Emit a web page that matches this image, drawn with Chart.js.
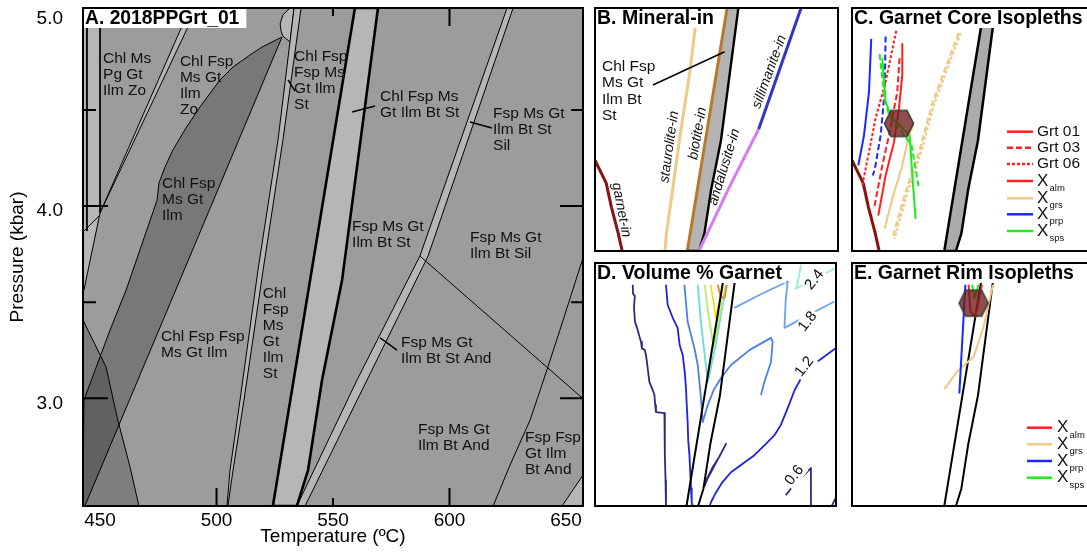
<!DOCTYPE html>
<html>
<head>
<meta charset="utf-8">
<title>2018PPGrt_01 pseudosection</title>
<script src="https://cdn.jsdelivr.net/npm/chart.js@4.4.1/dist/chart.umd.min.js"></script>
<style>
  html, body { margin: 0; padding: 0; width: 1087px; height: 552px; overflow: hidden; background: #fff; }
  canvas { position: absolute; }
</style>
</head>
<body>
<canvas id="panelA" width="590" height="552" style="left:0;top:0;width:590px;height:552px"></canvas>
<canvas id="panelB" width="247" height="247" style="left:593px;top:6px;width:247px;height:247px"></canvas>
<canvas id="panelC" width="247" height="247" style="left:850px;top:6px;width:247px;height:247px"></canvas>
<canvas id="panelD" width="245" height="247" style="left:593px;top:261px;width:245px;height:247px"></canvas>
<canvas id="panelE" width="247" height="247" style="left:850px;top:261px;width:247px;height:247px"></canvas>
<script>
const FONT = '"Liberation Sans", Arial, Helvetica, sans-serif';

// ---- axis ranges and ticks (temperature in °C, pressure in kbar) ----
const T_MIN = 442.7, T_MAX = 657.3, P_MIN = 2.44, P_MAX = 5.03;
const tempTicks = [450, 500, 550, 600, 650];
const pressTicks = [3.0, 4.0, 5.0];
const innerTempTicks = [500, 550, 600];
const innerPressTicks = [3.0, 3.5, 4.0, 4.5];

// ---- phase-field boundaries, [T, P] ----
const lowTCorner      = [[442.7,5.03],[450.0,5.03],[450.0,3.964],[443.1,3.563],[442.7,3.563]];
const cornerInnerLine = [[444.4,5.03],[444.4,3.87]];
const cornerBaseLine  = [[442.7,3.865],[450.0,3.953]];
const cornerEdge      = [[450.0,5.03],[450.0,3.964]];
const zoStripLeft     = [[488.6,5.03],[450.0,3.964],[443.1,3.563]];
const zoStripRight    = [[491.6,5.03],[450.0,3.964]];
const chlBandLeft     = [[528.1,4.879],[519.5,4.827],[514.4,4.786],[507.1,4.723],[501.5,4.656],[492.9,4.515],
                         [486.9,4.406],[481.3,4.292],[477.9,4.203],[475.3,4.120],[474.5,4.031],[461.2,3.563],
                         [454.3,3.355],[448.7,3.173],[443.1,2.991],[442.7,2.98]];
const chlBandRight    = [[528.1,4.879],[494.6,3.912],[443.5,2.44]];
const garnetIn        = [[442.7,3.40],[443.1,3.397],[452.6,3.163],[457.3,2.903],[462.9,2.643],[466.7,2.44]];
const topBubble       = [[531.5,5.03],[528.5,4.994],[527.3,4.947],[527.7,4.910],[528.5,4.884],[531.6,4.853],[533.3,5.03]];
const stLeft          = [[533.3,5.03],[526.4,4.343],[517.8,3.667],[510.1,2.991],[505.8,2.627],[504.5,2.44]];
const stRight         = [[536.3,5.03],[528.5,4.343],[520.0,3.667],[511.8,2.991],[507.1,2.627],[504.9,2.44]];
const btLeft          = [[559.4,5.03],[524.2,2.44]];
const btRight         = [[569.3,5.03],[553.9,3.615],[545.3,3.095],[539.3,2.627],[534.5,2.44]];
const silLeft         = [[624.7,5.03],[587.3,3.740],[560.3,3.095],[534.5,2.44]];
const silRight        = [[627.3,5.03],[590.8,3.740],[564.6,3.095],[538.0,2.44]];
const andSilLine      = [[587.3,3.740],[657.3,2.998]];
const hiTCurve        = [[657.3,3.730],[647.4,3.355],[641.8,3.147],[634.6,2.887],[626.0,2.653],[618.7,2.44]];
const hiTCorner       = [[648.3,2.44],[657.3,2.601],[657.3,2.44]];
const leaderLines     = [
  [[570.2,3.314],[577.5,3.251]],
  [[608.8,4.437],[618.2,4.406]],
  [[558.2,4.489],[568.0,4.520]],
  [[530.7,4.656],[533.7,4.598]]
];

// ---- field names ----
const fieldLabels = [
  { lines: ['Chl Ms','Pg Gt','Ilm Zo'],            at: [451.3, 4.765] },
  { lines: ['Chl Fsp','Ms Gt','Ilm','Zo'],         at: [484.3, 4.749] },
  { lines: ['Chl Fsp','Ms Gt','Ilm'],              at: [476.6, 4.115] },
  { lines: ['Chl Fsp','Fsp Ms','Gt Ilm','St'],     at: [533.3, 4.775] },
  { lines: ['Chl Fsp Ms','Gt Ilm Bt St'],          at: [570.2, 4.567] },
  { lines: ['Fsp Ms Gt','Ilm Bt St','Sil'],        at: [618.7, 4.479] },
  { lines: ['Fsp Ms Gt','Ilm Bt St'],              at: [558.2, 3.891] },
  { lines: ['Fsp Ms Gt','Ilm Bt Sil'],             at: [608.8, 3.834] },
  { lines: ['Chl Fsp Fsp','Ms Gt Ilm'],            at: [476.2, 3.319] },
  { lines: ['Chl','Fsp','Ms','Gt','Ilm','St'],     at: [519.9, 3.543] },
  { lines: ['Fsp Ms Gt','Ilm Bt St And'],          at: [579.2, 3.288] },
  { lines: ['Fsp Ms Gt','Ilm Bt And'],             at: [586.5, 2.835] },
  { lines: ['Fsp Fsp','Gt Ilm','Bt And'],          at: [632.4, 2.794] }
];

// ---- mineral-in panel ----
const mineralInLabels = [
  { text: 'garnet-in',      at: [465.9, 2.877], angle: 79 },
  { text: 'staurolite-in',  at: [508.4, 3.549], angle: -82 },
  { text: 'biotite-in',     at: [533.4, 3.692], angle: -80 },
  { text: 'andalusite-in',  at: [557.0, 3.335], angle: -73 },
  { text: 'sillimanite-in', at: [596.7, 4.351], angle: -70 }
];
const mineralFieldLabel = { lines: ['Chl Fsp','Ms Gt','Ilm Bt','St'], at: [448.9, 4.404] };
const mineralLeader = [[493.9,4.209],[557.2,4.564]];

// ---- garnet core isopleths (Grt 01 / 03 / 06) ----
const coreAlm01 = [[487.1,4.645],[487.1,4.316],[484.2,3.960],[479.8,3.602],[472.4,3.246],[465.9,2.818]];
const coreAlm03 = [[484.7,4.495],[482.7,4.137],[475.4,3.674],[469.5,3.353],[462.1,2.889]];
const coreAlm06 = [[481.8,4.787],[472.4,4.244],[463.5,3.853],[457.7,3.495],[451.8,3.139]];
const corePrp01 = [[459.7,4.701],[457.7,4.137],[453.3,3.674],[448.3,3.353]];
const corePrp03 = [[472.4,4.726],[471.5,4.137],[468.0,3.674],[463.5,3.353],[461.2,3.246]];
const coreSps01 = [[469.4,4.495],[472.4,4.030],[478.0,3.86],[493.6,3.674],[496.0,3.246],[498.9,2.783]];
const coreSps03 = [[467.1,4.538],[471.5,4.067],[475.4,3.888],[495.3,3.567],[501.9,3.104]];
const coreGrs01 = [[496.8,3.781],[493.0,3.674],[487.1,3.353],[478.3,2.997],[471.5,2.676]];
const coreGrs03 = [[536.8,4.762],[513.6,4.013],[501.9,3.495],[490.0,3.067],[478.3,2.569]];
const coreGrs06 = [[538.6,4.762],[515.4,4.013],[503.7,3.495],[491.8,3.067],[480.1,2.569]];
const coreEstimate = [[484.2,3.799]];

// ---- garnet rim isopleths ----
const rimAlm = [[545.7,4.798],[547.2,4.512],[551.6,4.459],[557.5,4.798]];
const rimGrs = [[567.2,4.798],[558.9,4.351],[550.1,4.030],[535.4,3.870],[524.2,3.685]];
const rimPrp = [[542.8,4.798],[537.5,3.639]];
const rimSps = [[548.7,4.798],[551.0,4.655],[554.5,4.798]];
const rimEstimate = [[550.1,4.602]];

// ---- volume % garnet contours ----
const vol06a = [[476.3,4.798],[476.6,4.700],[478.2,4.680],[477.4,4.560],[478.3,4.403],[480.7,4.317],[482.2,4.250],
                [483.7,4.189],[484.5,4.120],[487.0,4.104],[488.1,4.050],[489.6,3.911],[491.1,3.762],[494.1,3.676],
                [495.6,3.623],[496.3,3.516],[497.0,3.441],[504.5,3.430],[504.8,3.249],[505.0,2.982],[505.5,2.715],
                [505.9,2.44]];
const vol06b = [[612.5,2.554],[616.1,2.608],[620.5,2.683],[627.6,2.757],[635.0,2.843],[635.0,2.44]];
const vol06c = [[559.7,3.110],[555.5,3.014],[549.3,2.875],[543.1,2.736],[540.1,2.650],[541.3,2.704],
                [547.5,2.853],[553.7,2.971],[559.7,3.110]];
const vol06d = [[653.5,2.44],[657.3,2.533]];
const vol12a = [[505.9,4.798],[507.4,4.585],[511.9,4.446],[516.3,4.339],[518.1,4.157],[520.8,4.050],[522.6,3.869],
                [523.7,3.698],[524.4,3.516],[525.2,3.334],[525.7,3.142],[526.8,2.982],[527.5,2.800],[528.2,2.629],
                [528.8,2.480],[529.7,2.44]];
const vol12b = [[544.8,2.44],[546.0,2.480],[549.0,2.554],[555.5,2.683],[563.8,2.800],[576.0,2.907],[584.6,2.982],
                [593.8,3.089],[602.5,3.195],[608.1,3.302],[614.3,3.484],[620.5,3.676],[629.4,3.869],[642.8,3.997],
                [657.3,4.125]];
const vol18a = [[522.3,4.798],[523.5,4.638],[525.2,4.403],[531.2,4.125],[534.2,3.943],[536.8,3.623],[538.6,3.334],
                [543.1,3.516],[548.4,3.676],[554.9,3.804],[563.8,3.943],[580.5,4.104],[599.4,4.232],[600.9,4.189],
                [599.4,3.975],[593.5,3.762],[590.5,3.623]];
const vol18b = [[566.8,4.552],[589.4,4.691],[614.3,4.833],[612.5,4.638],[611.4,4.339],[625.0,4.424],[638.3,4.510],
                [655.9,4.620]];
const vol24  = [[626.1,5.012],[624.1,4.873],[621.7,4.755],[629.4,4.809],[638.3,4.862],[647.2,4.916],[657.3,4.980]];
const vol30  = [[534.2,4.798],[536.8,4.424],[540.4,4.050],[543.1,3.762],[550.2,4.157],[556.4,4.584],[560.0,4.798]];
const vol36  = [[540.4,4.798],[543.1,4.531],[546.6,4.264],[548.4,4.125],[552.9,4.424],[558.2,4.745],[559.1,4.798]];
const vol42  = [[545.7,4.798],[548.4,4.606],[550.2,4.446],[553.7,4.638],[556.4,4.798]];
const vol48  = [[552.0,4.798],[554.6,4.670],[558.2,4.659],[560.0,4.798]];
const contourLabels = [
  { text: '2.4', at: [638.1, 4.852] },
  { text: '1.8', at: [632.1, 4.406] },
  { text: '1.2', at: [629.2, 3.925] },
  { text: '0.6', at: [620.3, 2.768] }
];

// ---- colours ----
const FIELD = '#9c9c9c', LIGHT = '#b6b6b6', EDGE = '#000';
const ALM = '#ff2020', GRS = '#efc884', PRP = '#1c28ff', SPS = '#1eec1e', GRT_IN = '#8c1212';

// ---- helpers ----
const pts = arr => arr.map(([x, y]) => ({ x, y }));
function lineDs(arr, color, width, dash) {
  return { data: pts(arr), borderColor: color, borderWidth: width, borderDash: dash || [],
           pointRadius: 0, fill: false, tension: 0, borderJoinStyle: 'round', borderCapStyle: 'butt' };
}
function polyDs(arr, fillColor, edgeColor, edgeWidth) {
  return { data: pts(arr.concat([arr[0]])), backgroundColor: fillColor,
           borderColor: edgeColor || 'rgba(0,0,0,0)', borderWidth: edgeWidth || 1,
           pointRadius: 0, fill: 'shape', tension: 0, borderJoinStyle: 'round' };
}
// first item in the list is painted first (lowest)
const stack = list => list.map((d, i) => Object.assign(d, { order: list.length - i }));
const toPx = (chart, at) => [chart.scales.x.getPixelForValue(at[0]), chart.scales.y.getPixelForValue(at[1])];

function hexagonMark() {
  const c = document.createElement('canvas');
  c.width = 32; c.height = 30;
  const g = c.getContext('2d');
  g.beginPath();
  g.moveTo(1.5, 15); g.lineTo(8, 2); g.lineTo(24, 2); g.lineTo(30.5, 15); g.lineTo(24, 28); g.lineTo(8, 28);
  g.closePath();
  g.fillStyle = 'rgba(110,28,28,0.78)';
  g.fill();
  g.lineWidth = 1.6; g.strokeStyle = '#3a3a3a';
  g.stroke();
  return c;
}
const estimateDs = arr => ({ data: pts(arr), pointStyle: hexagonMark(), pointRadius: 15, showLine: false,
                             borderWidth: 0, fill: false });

function drawTitle(ctx, a, text, size, extra) {
  ctx.font = `bold ${size}px ${FONT}`;
  const w = ctx.measureText(text).width;
  ctx.fillStyle = '#fff';
  ctx.fillRect(a.left, a.top, w + 4 + extra, 20);
  ctx.fillStyle = '#000';
  ctx.textAlign = 'left'; ctx.textBaseline = 'middle';
  ctx.fillText(text, a.left + 2, a.top + 10.5);
}
function drawBlock(ctx, lines, x, y, size, lh) {
  ctx.font = `${size}px ${FONT}`;
  ctx.fillStyle = '#111'; ctx.textAlign = 'left'; ctx.textBaseline = 'middle';
  lines.forEach((t, i) => ctx.fillText(t, x, y + i * lh));
}
function drawKey(ctx, a, rows, lineX0, lineX1, textX) {
  rows.forEach(r => {
    const y = a.top + r.dy;
    ctx.save();
    ctx.strokeStyle = r.color; ctx.lineWidth = 2.5; ctx.setLineDash(r.dash || []);
    ctx.beginPath(); ctx.moveTo(a.left + lineX0, y); ctx.lineTo(a.left + lineX1, y); ctx.stroke();
    ctx.restore();
    ctx.fillStyle = '#111'; ctx.textAlign = 'left'; ctx.textBaseline = 'middle';
    if (r.sub) {
      ctx.font = `17px ${FONT}`;
      ctx.fillText('X', a.left + textX, y);
      ctx.font = `9.5px ${FONT}`;
      ctx.fillText(r.sub, a.left + textX + 12.5, y + 7.5);
    } else {
      ctx.font = `15.5px ${FONT}`;
      ctx.fillText(r.text, a.left + textX, y);
    }
  });
}

const insetScales = () => ({
  x: { type: 'linear', min: T_MIN, max: T_MAX, display: false },
  y: { type: 'linear', min: P_MIN, max: P_MAX, display: false }
});
const baseOptions = extra => Object.assign({
  responsive: false, animation: false, devicePixelRatio: 1, events: [],
  plugins: { legend: { display: false }, tooltip: { enabled: false } }
}, extra);

function insetChart(id, title, datasets, decorate) {
  return new Chart(document.getElementById(id), {
    type: 'line',
    data: { datasets: stack(datasets) },
    options: baseOptions({ layout: { padding: 2, autoPadding: false }, scales: insetScales() }),
    plugins: [{
      id: 'inset-' + id,
      afterDatasetsDraw(chart) {
        const { ctx, chartArea: a } = chart;
        ctx.save();
        if (decorate) decorate(chart, ctx, a);
        drawTitle(ctx, a, title, 19.5, 2);
        ctx.lineWidth = 2; ctx.strokeStyle = '#000';
        ctx.strokeRect(a.left, a.top, a.right - a.left, a.bottom - a.top);
        ctx.restore();
      }
    }]
  });
}

// ---- A. pseudosection ----
const chlBandPoly = chlBandLeft.concat([[442.7, 2.44]], chlBandRight.slice().reverse());
const garnetField = garnetIn.concat([[442.7, 2.44]]);
const stPoly  = stLeft.concat(stRight.slice().reverse());
const btPoly  = btLeft.concat(btRight.slice().reverse());
const silPoly = silLeft.concat(silRight.slice().reverse());

new Chart(document.getElementById('panelA'), {
  type: 'line',
  data: {
    datasets: stack([
      polyDs(lowTCorner, LIGHT),
      lineDs(cornerInnerLine, EDGE, 1),
      lineDs(cornerBaseLine, EDGE, 1),
      lineDs(cornerEdge, EDGE, 1),
      polyDs([zoStripLeft[0], zoStripRight[0], zoStripRight[1]], LIGHT),
      lineDs(zoStripLeft, EDGE, 1),
      lineDs(zoStripRight, EDGE, 1),
      polyDs(chlBandPoly, 'rgba(0,0,0,0.23)', EDGE, 1),
      polyDs(garnetField, 'rgba(0,0,0,0.19)'),
      lineDs(garnetIn, EDGE, 1),
      polyDs(topBubble, LIGHT, EDGE, 1),
      polyDs(stPoly, LIGHT),
      lineDs(stLeft, EDGE, 1),
      lineDs(stRight, EDGE, 1),
      polyDs(silPoly, LIGHT),
      lineDs(silLeft, EDGE, 1),
      lineDs(silRight, EDGE, 1),
      lineDs(andSilLine, EDGE, 1),
      lineDs(hiTCurve, EDGE, 1),
      polyDs(hiTCorner, LIGHT, EDGE, 1),
      polyDs(btPoly, LIGHT, EDGE, 2.6),
      ...leaderLines.map(l => lineDs(l, EDGE, 1.5))
    ])
  },
  options: baseOptions({
    layout: { padding: { left: 0, right: 7, top: 8, bottom: 0 }, autoPadding: false },
    scales: {
      x: {
        type: 'linear', min: T_MIN, max: T_MAX,
        afterBuildTicks: s => { s.ticks = tempTicks.map(v => ({ value: v })); },
        afterFit: s => { s.height = 46; s.paddingLeft = 0; s.paddingRight = 0; },
        grid: { display: false, drawTicks: false }, border: { display: false },
        ticks: { color: '#000', font: { family: FONT, size: 19 }, padding: 3, maxRotation: 0, autoSkip: false,
                 callback: v => String(v) },
        title: { display: true, text: 'Temperature (ºC)', color: '#000', font: { family: FONT, size: 19 },
                 padding: { top: 0, bottom: 4 } }
      },
      y: {
        type: 'linear', min: P_MIN, max: P_MAX,
        afterBuildTicks: s => { s.ticks = pressTicks.map(v => ({ value: v })); },
        afterFit: s => { s.width = 83; s.paddingTop = 0; s.paddingBottom = 0; },
        grid: { display: false, drawTicks: false }, border: { display: false },
        ticks: { color: '#000', font: { family: FONT, size: 19 }, padding: 20, autoSkip: false, labelOffset: 5,
                 callback: v => Number(v).toFixed(1) },
        title: { display: true, text: 'Pressure (kbar)', color: '#000', font: { family: FONT, size: 19 },
                 padding: { top: 6, bottom: 0 } }
      }
    }
  }),
  plugins: [{
    id: 'pseudosection',
    beforeDatasetsDraw(chart) {
      const { ctx, chartArea: a } = chart;
      ctx.save();
      ctx.fillStyle = FIELD;
      ctx.fillRect(a.left, a.top, a.right - a.left, a.bottom - a.top);
      ctx.restore();
    },
    afterDatasetsDraw(chart) {
      const { ctx, chartArea: a, scales: { x, y } } = chart;
      ctx.save();
      fieldLabels.forEach(l => {
        const [px, py] = toPx(chart, l.at);
        drawBlock(ctx, l.lines, px, py, 15.5, 16);
      });
      ctx.strokeStyle = '#000'; ctx.lineWidth = 2;
      innerTempTicks.forEach(v => {
        const px = x.getPixelForValue(v), len = v % 100 === 0 ? 18 : 8;
        ctx.beginPath();
        ctx.moveTo(px, a.bottom); ctx.lineTo(px, a.bottom - len);
        ctx.moveTo(px, a.top); ctx.lineTo(px, a.top + len);
        ctx.stroke();
      });
      innerPressTicks.forEach(v => {
        const py = y.getPixelForValue(v), major = Number.isInteger(v);
        ctx.beginPath();
        ctx.moveTo(a.left, py); ctx.lineTo(a.left + (major ? 25 : 13), py);
        ctx.moveTo(a.right, py); ctx.lineTo(a.right - (major ? 23 : 12), py);
        ctx.stroke();
      });
      drawTitle(ctx, a, 'A. 2018PPGrt_01', 19.3, 5);
      ctx.lineWidth = 2; ctx.strokeStyle = '#000';
      ctx.strokeRect(a.left, a.top, a.right - a.left, a.bottom - a.top);
      ctx.restore();
    }
  }]
});

// ---- B. mineral-in lines ----
insetChart('panelB', 'B. Mineral-in', [
  polyDs(btPoly, '#b4b4b4'),
  lineDs(garnetIn, GRT_IN, 3),
  lineDs(stLeft, '#ecca88', 3),
  lineDs(btLeft, '#b8782e', 3),
  lineDs(btRight.concat([btLeft[btLeft.length - 1]]), '#000', 2.4),
  lineDs(silLeft.slice(1), '#d27ff2', 3),
  lineDs(silLeft.slice(0, 2), '#3333c4', 3),
  lineDs(mineralLeader, '#000', 1.5)
], (chart, ctx) => {
  const [lx, ly] = toPx(chart, mineralFieldLabel.at);
  drawBlock(ctx, mineralFieldLabel.lines, lx, ly, 15.5, 16.3);
  ctx.font = `italic 14px ${FONT}`;
  ctx.fillStyle = '#111'; ctx.textAlign = 'center'; ctx.textBaseline = 'middle';
  mineralInLabels.forEach(l => {
    const [px, py] = toPx(chart, l.at);
    ctx.save();
    ctx.translate(px, py); ctx.rotate(l.angle * Math.PI / 180);
    ctx.fillText(l.text, 0, 0);
    ctx.restore();
  });
});

// ---- C. garnet core isopleths ----
insetChart('panelC', 'C. Garnet Core Isopleths', [
  polyDs(btPoly, '#ababab', '#000', 2.5),
  lineDs(garnetIn, GRT_IN, 3),
  lineDs(coreGrs03, GRS, 2.2, [6, 3]),
  lineDs(coreGrs06, GRS, 2.2, [3, 2]),
  lineDs(coreGrs01, GRS, 2),
  lineDs(corePrp01, PRP, 2),
  lineDs(corePrp03, PRP, 2, [6, 3]),
  lineDs(coreAlm06, ALM, 2, [3, 2]),
  lineDs(coreAlm03, ALM, 2, [6, 3]),
  lineDs(coreAlm01, ALM, 2),
  lineDs(coreSps03, SPS, 2, [6, 3]),
  lineDs(coreSps01, SPS, 2),
  estimateDs(coreEstimate)
], (chart, ctx, a) => {
  drawKey(ctx, a, [
    { text: 'Grt 01', color: ALM, dy: 123.7 },
    { text: 'Grt 03', color: ALM, dash: [6, 3], dy: 139.7 },
    { text: 'Grt 06', color: ALM, dash: [3, 2], dy: 156 },
    { sub: 'alm', color: ALM, dy: 173 },
    { sub: 'grs', color: GRS, dy: 190.3 },
    { sub: 'prp', color: PRP, dy: 206.3 },
    { sub: 'sps', color: SPS, dy: 223 }
  ], 155, 181, 185);
});

// ---- D. volume % garnet ----
insetChart('panelD', 'D. Volume % Garnet', [
  lineDs(vol06a, '#2b2b80', 1.8),
  lineDs(vol06b, '#2b2b80', 1.8),
  lineDs(vol06c, '#2b2b80', 1.8),
  lineDs(vol06d, '#2b2b80', 1.8),
  lineDs(vol12a, '#2020e2', 1.8),
  lineDs(vol12b, '#2020e2', 1.8),
  lineDs(vol18a, '#4d7fe8', 1.8),
  lineDs(vol18b, '#6aa4ee', 1.8),
  lineDs(vol24, '#96ecd0', 1.8),
  lineDs(vol30, '#6adcd8', 1.8),
  lineDs(vol36, '#b6ee6c', 1.8),
  lineDs(vol42, '#f0df2c', 1.8),
  lineDs(vol48, '#e88a28', 1.8),
  lineDs(btLeft, '#000', 2),
  lineDs(btRight, '#000', 2)
], (chart, ctx) => {
  ctx.font = `15px ${FONT}`;
  ctx.textAlign = 'center'; ctx.textBaseline = 'middle';
  contourLabels.forEach(l => {
    const [px, py] = toPx(chart, l.at);
    ctx.save();
    ctx.translate(px, py); ctx.rotate(-52 * Math.PI / 180);
    const w = ctx.measureText(l.text).width;
    ctx.fillStyle = '#fff'; ctx.fillRect(-w / 2 - 2, -8, w + 4, 16);
    ctx.fillStyle = '#111'; ctx.fillText(l.text, 0, 0);
    ctx.restore();
  });
});

// ---- E. garnet rim isopleths ----
insetChart('panelE', 'E. Garnet Rim Isopleths', [
  lineDs(btLeft, '#000', 2),
  lineDs(btRight, '#000', 2),
  lineDs(rimGrs, GRS, 2),
  lineDs(rimPrp, PRP, 2),
  lineDs(rimSps, SPS, 2),
  lineDs(rimAlm, ALM, 2),
  estimateDs(rimEstimate)
], (chart, ctx, a) => {
  drawKey(ctx, a, [
    { sub: 'alm', color: ALM, dy: 164.7 },
    { sub: 'grs', color: GRS, dy: 181.3 },
    { sub: 'prp', color: PRP, dy: 198 },
    { sub: 'sps', color: SPS, dy: 214.7 }
  ], 175, 200, 205);
});
</script>
</body>
</html>
